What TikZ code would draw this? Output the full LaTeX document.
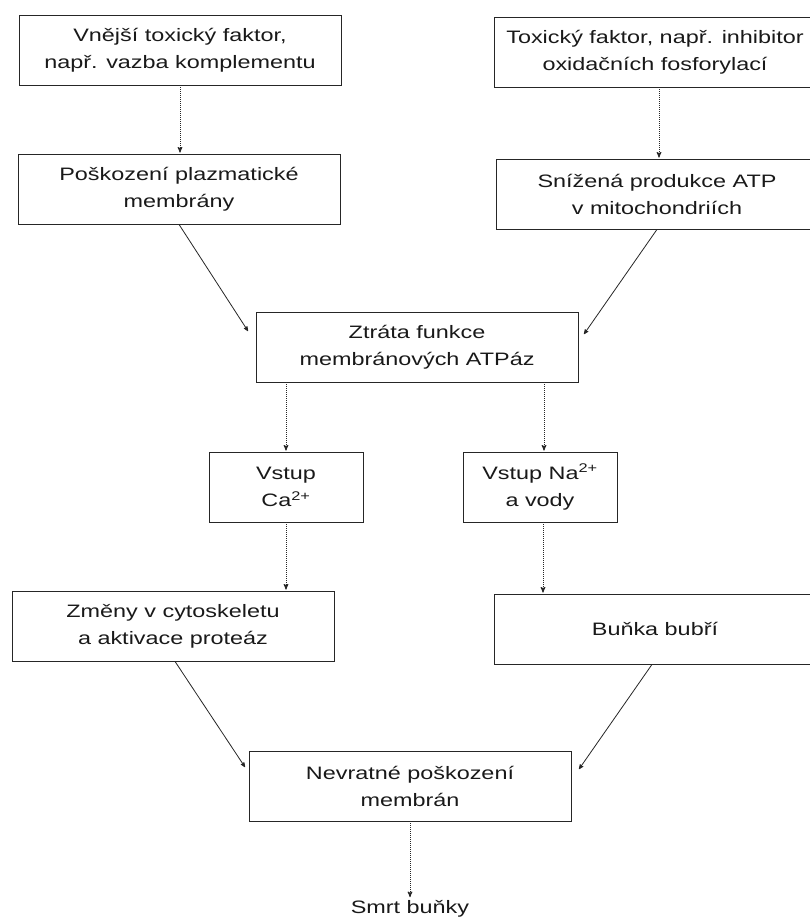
\documentclass[tikz,border=0pt]{standalone}
\usepackage{fontspec}
\setmainfont{Liberation Sans}[FakeStretch=1.3]
\usepackage{tikz}
\usetikzlibrary{arrows}
\usetikzlibrary{positioning}

\begin{document}
\begin{tikzpicture}[x=1pt,y=-1pt,>=stealth',shorten >=1pt,
	line width=0.8pt,draw=black!85,text=black!90,
	font=\fontsize{18}{27}\selectfont,
	main node/.style={rectangle,draw,align=center,minimum width=322pt,minimum height=70pt,inner sep=2pt},
	small node/.style={main node,minimum width=154pt},
	dot edge/.style={->,densely dotted,line width=1pt},
	slant edge/.style={->}]
	
	\useasboundingbox (0,0) rectangle (810,921);
	\clip (0,0) rectangle (810,921);
	
	\node[main node] (vnejsi) at (180,50) {Vnější toxický faktor,\\např. vazba komplementu};
	\node[main node] (toxicky) at (655,52) {Toxický faktor, např. inhibitor\\oxidačních fosforylací};
	\node[main node] (poskozeni) at (179,189) {Poškození plazmatické\\membrány};
	\node[main node] (snizena) at (657,194) {Snížená produkce ATP\\v mitochondriích};
	\node[main node] (ztrata) at (417,347) {Ztráta funkce\\membránových ATPáz};
	\node[small node] (vstupca) at (286,487) {Vstup\\Ca\textsuperscript{2+}};
	\node[small node] (vstupna) at (540,487) {Vstup Na\textsuperscript{2+}\\a vody};
	\node[main node] (zmeny) at (173,626) {Změny v cytoskeletu\\a aktivace proteáz};
	\node[main node] (bunka) at (655,629) {Buňka bubří};
	\node[main node] (nevratne) at (410,786) {Nevratné poškození\\membrán};
	\node[inner sep=2pt] (smrt) at (410,909) {Smrt buňky};
	
	\draw[dot edge] ([xshift=4pt]toxicky.south) -- ([xshift=4pt]toxicky.south |- snizena.north);
	\draw[dot edge] (vnejsi.south) -- (vnejsi.south |- poskozeni.north);
	\draw[slant edge] (poskozeni.south) -- ([xshift=-7pt,yshift=15pt]ztrata.west);
	\draw[slant edge] (snizena.south) -- ([xshift=5pt,yshift=12pt]ztrata.east);
	\draw[dot edge] (vstupca.north |- ztrata.south) -- (vstupca.north);
	\draw[dot edge] ([xshift=4pt]vstupna.north |- ztrata.south) -- ([xshift=4pt]vstupna.north);
	\draw[dot edge] (vstupca.south) -- (vstupca.south |- zmeny.north);
	\draw[dot edge] ([xshift=3pt]vstupna.south) -- ([xshift=3pt]vstupna.south |- bunka.north);
	\draw[slant edge] ([xshift=2pt]zmeny.south) -- ([xshift=-3pt,yshift=18pt]nevratne.west);
	\draw[slant edge] ([xshift=-3pt]bunka.south) -- ([xshift=7pt,yshift=16pt]nevratne.east);
	\draw[dot edge] (nevratne.south) -- (smrt.north);
\end{tikzpicture}
\end{document}
